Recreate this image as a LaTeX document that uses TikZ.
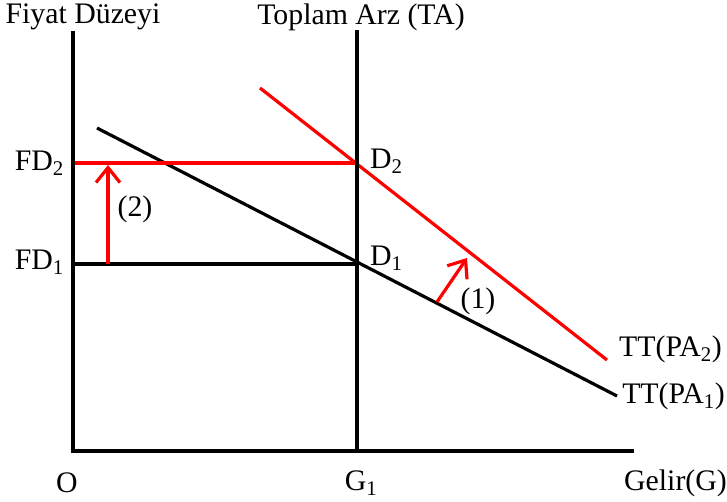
\documentclass[tikz,border=0pt]{standalone}
\usepackage{fontspec}
\setmainfont{Liberation Serif}
\usetikzlibrary{arrows.meta}
\begin{document}
\begin{tikzpicture}[x=1pt,y=-1pt,
  axis/.style={line width=3.6pt, black},
  blk/.style={line width=3.2pt, black},
  redl/.style={line width=3.2pt, red},
  shiftarrow/.style={line width=3.2pt, red, -{Straight Barb[length=15pt,width=24pt,line width=3.2pt]}},
  lbl/.style={font=\fontsize{29.8}{33}\selectfont, inner sep=0pt}]
\useasboundingbox (0,0) rectangle (727,501);
% points
\coordinate (O) at (73,451);
\coordinate (ytop) at (73,33);
\coordinate (xend) at (632,451);
\coordinate (tatop) at (357,30);
\coordinate (G1) at (357,451);
\coordinate (D1) at (357,264);
\coordinate (D2) at (357,163);
\coordinate (fd1) at (73,264);
\coordinate (fd2) at (73,163);
\coordinate (b1) at (97,128);
\coordinate (b2) at (617,396);
\coordinate (r1) at (260,88);
\coordinate (r2) at (607,360);
\coordinate (a2s) at (108,264);
\coordinate (a2e) at (108,165);
\coordinate (a1s) at (437,302);
\coordinate (a1e) at (467,258);
% lines
\draw[blk] (b1) -- (b2);
\draw[blk] (fd1) -- (D1);
\draw[redl] (r1) -- (r2);
\draw[redl] (fd2) -- (D2);
\draw[axis] (tatop) -- (G1);
\draw[axis, line cap=rect] (ytop) -- (O) -- (xend);
\draw[shiftarrow] (a2s) -- (a2e);
\draw[shiftarrow] (a1s) -- (a1e);
% labels
\node[lbl] (tfd) at (83,17) {Fiyat Düzeyi};
\node[lbl] (tta) at (361,17) {Toplam Arz (TA)};
\node[lbl, anchor=east] (tfd2) at (64,163) {FD\textsubscript{2}};
\node[lbl, anchor=east] (tfd1) at (64,262) {FD\textsubscript{1}};
\node[lbl] (t2) at (135,209) {(2)};
\node[lbl, anchor=west] (td2) at (370,161) {D\textsubscript{2}};
\node[lbl, anchor=west] (td1) at (370,258) {D\textsubscript{1}};
\node[lbl] (t1) at (478,301) {(1)};
\node[lbl, anchor=west] (tpa2) at (619,349) {TT(PA\textsubscript{2})};
\node[lbl, anchor=east] (tpa1) at (725,396) {TT(PA\textsubscript{1})};
\node[lbl] (tO) at (67,483) {O};
\node[lbl] (tG1) at (361,483) {G\textsubscript{1}};
\node[lbl, anchor=east] (tgel) at (727,483) {Gelir(G)};
\end{tikzpicture}
\end{document}
